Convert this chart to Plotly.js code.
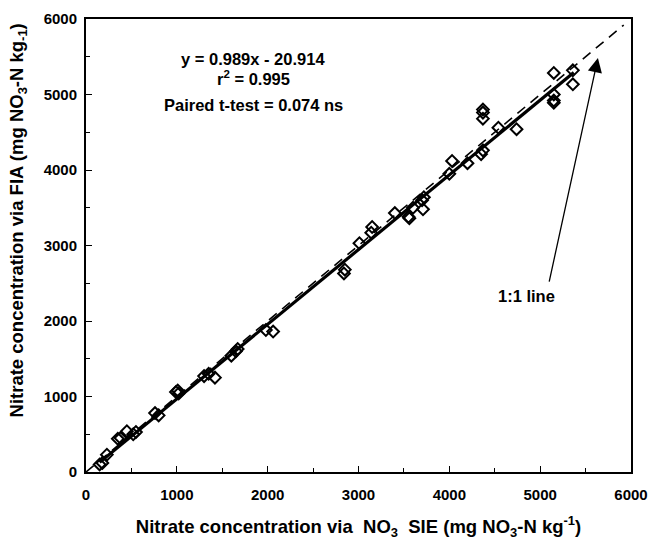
<!DOCTYPE html>
<html>
<head>
<meta charset="utf-8">
<script src="https://cdn.plot.ly/plotly-3.0.1.min.js"></script>
<style>html,body{margin:0;padding:0;background:#fff;}#chart{width:651px;height:542px;}</style>
</head>
<body>
<div id="chart"></div>
<script>
// Observations: NO3 SIE (x) vs FIA (y), mg NO3-N kg-1
const sieValues = [150, 180, 230, 350, 380, 450, 520, 550, 760, 800, 990, 1010, 1020,
  1300, 1350, 1420, 1600, 1650, 1670, 1980, 2060, 2840, 2850, 3010, 3140, 3150,
  3400, 3550, 3560, 3600, 3700, 3710, 3720, 4000, 4030, 4200, 4350, 4370, 4370,
  4370, 4370, 4540, 4740, 5150, 5150, 5150, 5150, 5360, 5360];
const fiaValues = [100, 120, 230, 440, 450, 540, 500, 530, 780, 750, 1060, 1080, 1040,
  1270, 1300, 1250, 1540, 1600, 1630, 1880, 1860, 2630, 2680, 3030, 3170, 3245,
  3430, 3380, 3360, 3500, 3600, 3480, 3640, 3950, 4120, 4090, 4210, 4260, 4680,
  4760, 4800, 4560, 4540, 4890, 4920, 5000, 5285, 5135, 5320];
const fitSlope = 0.989;
const fitIntercept = -20.914;
const fitRange = [150, 5370];
const oneToOneRange = [0, 5920];
const tickValues = [0, 1000, 2000, 3000, 4000, 5000, 6000];
const tickLabels = ['0', '1000', '2000', '3000', '4000', '5000', '6000'];

const font = {family: 'Liberation Sans, Arial, sans-serif', color: '#000'};
const f = (size) => Object.assign({size: size, weight: 'bold'}, font);

const traces = [
  {x: oneToOneRange, y: oneToOneRange, mode: 'lines', type: 'scatter',
   line: {color: '#000', width: 1.6, dash: '10px,7px'}, hoverinfo: 'skip'},
  {x: sieValues, y: fiaValues, mode: 'markers', type: 'scatter',
   marker: {symbol: 'diamond-open', size: 9, color: '#000', line: {width: 2, color: '#000'}}},
  {x: fitRange, y: fitRange.map(v => fitSlope * v + fitIntercept), mode: 'lines', type: 'scatter',
   line: {color: '#000', width: 3.2}, hoverinfo: 'skip'}
];

const axisCommon = {
  range: [0, 6000], autorange: false, tickvals: tickValues, ticktext: tickLabels,
  ticks: 'inside', ticklen: 6, tickwidth: 1, tickcolor: '#000',
  minor: {dtick: 500, ticks: 'inside', ticklen: 4, tickcolor: '#000'},
  showline: true, linecolor: '#000', linewidth: 2, mirror: true,
  showgrid: false, zeroline: false,
  tickfont: f(15)
};

const layout = {
  width: 651, height: 542,
  margin: {l: 86, r: 20, t: 19, b: 70},
  paper_bgcolor: '#fff', plot_bgcolor: '#fff',
  showlegend: false,
  xaxis: Object.assign({}, axisCommon, {
    ticklabelstandoff: 8,
    title: {text: 'Nitrate concentration via  NO<sub>3</sub>  SIE (mg NO<sub>3</sub>-N kg<sup>-1</sup>)',
            font: f(18.5), standoff: 18}
  }),
  yaxis: Object.assign({}, axisCommon, {ticklabelstandoff: 4}),
  annotations: [
    {x: -0.125, y: 0.555, xref: 'paper', yref: 'paper', textangle: -90,
     text: 'Nitrate concentration via FIA (mg NO<sub>3</sub>-N kg<sub>-1</sub>)',
     showarrow: false, xanchor: 'center', yanchor: 'middle', font: f(18.5)},
    {x: 1842, y: 5470, xref: 'x', yref: 'y', text: 'y = 0.989x - 20.914', showarrow: false, font: f(16.5)},
    {x: 1842, y: 5215, xref: 'x', yref: 'y', text: 'r<sup>2</sup> = 0.995', showarrow: false, font: f(16.5)},
    {x: 1842, y: 4861, xref: 'x', yref: 'y', text: 'Paired t-test = 0.074 ns', showarrow: false, font: f(16.5)},
    {x: 4853, y: 2331, xref: 'x', yref: 'y', text: '1:1 line', showarrow: false, font: f(16.5)},
    {x: 5636, y: 5483, xref: 'x', yref: 'y', ax: 5096, ay: 2503, axref: 'x', ayref: 'y',
     text: '', showarrow: true, arrowhead: 2, arrowsize: 2.2, arrowwidth: 1.3, arrowcolor: '#000'}
  ]
};

Plotly.newPlot('chart', traces, layout, {displayModeBar: false, staticPlot: true});
</script>
</body>
</html>
